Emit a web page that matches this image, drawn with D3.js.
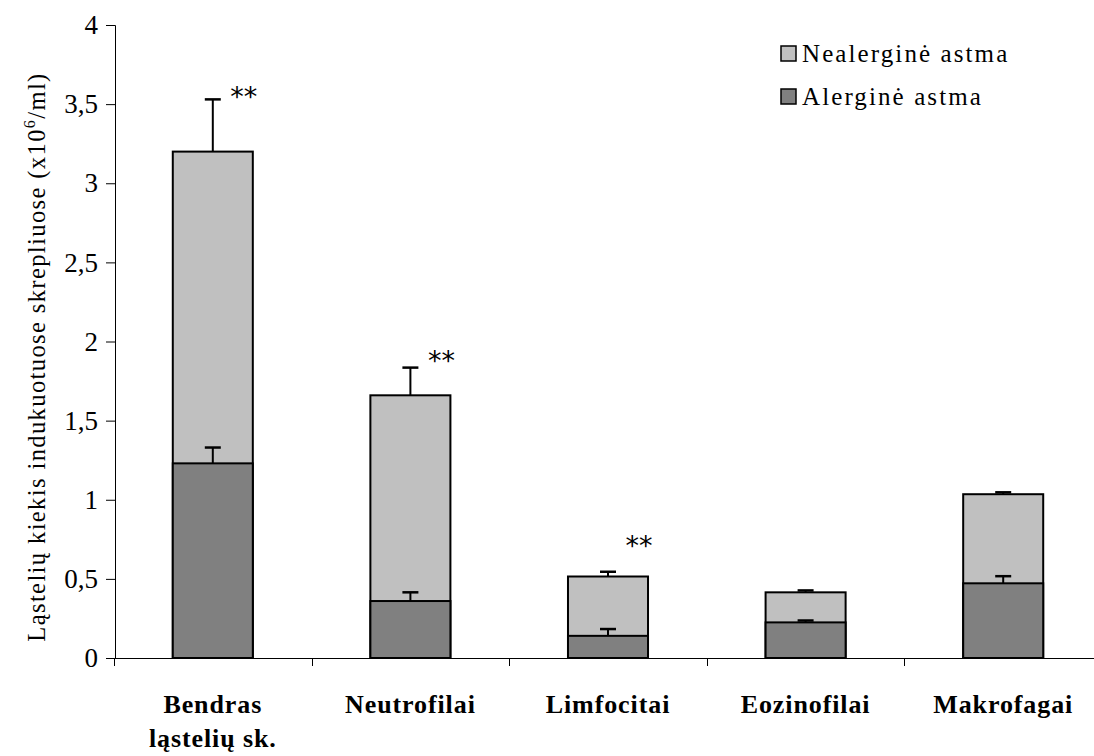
<!DOCTYPE html>
<html>
<head>
<meta charset="utf-8">
<script src="https://cdn.jsdelivr.net/npm/d3@7"></script>
<style>
  body { margin: 0; background: #fff; }
  text { font-family: "Liberation Serif", "Times New Roman", serif; }
</style>
</head>
<body>
<div class="content"></div>
<script>
const SVG_WIDTH = 1094;
const SVG_HEIGHT = 756;

// data
const categories = ["Bendras ląstelių sk.", "Neutrofilai", "Limfocitai", "Eozinofilai", "Makrofagai"];
const nealerg = [3.2, 1.66, 0.515, 0.415, 1.035];
const nealergErr = [0.33, 0.175, 0.03, 0.012, 0.012];
const alerg = [1.23, 0.36, 0.14, 0.225, 0.472];
const alergErr = [0.1, 0.055, 0.043, 0.012, 0.045];
const stars = ["**", "**", "**", "", ""];
const starLevel = [3.57, 1.9, 0.73, 0, 0];
const yTicks = [0, 0.5, 1, 1.5, 2, 2.5, 3, 3.5, 4];
const seriesNames = ["Nealerginė astma", "Alerginė astma"];
const seriesColors = ["#c0c0c0", "#808080"];

const svg = d3.select(".content").append("svg")
    .attr("width", SVG_WIDTH).attr("height", SVG_HEIGHT);

let y = d3.scaleLinear().domain([0, 4]).range([658, 25]);
let x = d3.scaleBand().domain(categories).range([114, 1102]).padding(0);
const barW = x.bandwidth() * 0.405;
const cx = d => x(d) + x.bandwidth() / 2;

// y axis
let yAxis = d3.axisLeft(y).tickValues(yTicks).tickSize(9).tickPadding(8)
    .tickFormat(d => String(d).replace(".", ","));
let yg = svg.append("g").attr("transform", "translate(115,0)").call(yAxis);
yg.select(".domain").attr("stroke", "#000").attr("stroke-width", 1);
yg.selectAll(".tick line").attr("stroke", "#000");
yg.selectAll(".tick text").style("font-size", "27px").attr("fill", "#000")
    .attr("font-family", "Liberation Serif");

// bars: nealergine behind, alergine in front
let rows = categories.map((c, i) => ({c: c, n: nealerg[i], ne: nealergErr[i], a: alerg[i], ae: alergErr[i], s: stars[i], sl: starLevel[i]}));

let bars = svg.append("g");
bars.selectAll("rect.neal").data(rows).join("rect").attr("class", "neal")
    .attr("x", d => cx(d.c) - barW / 2).attr("width", barW)
    .attr("y", d => y(d.n)).attr("height", d => y(0) - y(d.n))
    .attr("fill", seriesColors[0]).attr("stroke", "#000").attr("stroke-width", 2);

function errBars(g, val, err) {
    g.selectAll("line.v").data(rows).join("line").attr("class", "v")
        .attr("x1", d => cx(d.c)).attr("x2", d => cx(d.c))
        .attr("y1", d => y(val(d))).attr("y2", d => y(val(d) + err(d)))
        .attr("stroke", "#000").attr("stroke-width", 2);
    g.selectAll("line.cap").data(rows).join("line").attr("class", "cap")
        .attr("x1", d => cx(d.c) - 8).attr("x2", d => cx(d.c) + 8)
        .attr("y1", d => y(val(d) + err(d))).attr("y2", d => y(val(d) + err(d)))
        .attr("stroke", "#000").attr("stroke-width", 2.5);
}
errBars(svg.append("g"), d => d.n, d => d.ne);

bars.append("g").selectAll("rect.al").data(rows).join("rect").attr("class", "al")
    .attr("x", d => cx(d.c) - barW / 2).attr("width", barW)
    .attr("y", d => y(d.a)).attr("height", d => y(0) - y(d.a))
    .attr("fill", seriesColors[1]).attr("stroke", "#000").attr("stroke-width", 2);
errBars(svg.append("g"), d => d.a, d => d.ae);

// significance marks
svg.append("g").selectAll("text").data(rows.filter(d => d.s))
    .join("text")
    .attr("x", d => cx(d.c) + 31).attr("y", d => y(d.sl) + 13)
    .attr("text-anchor", "middle")
    .style("font-family", "'DejaVu Sans', sans-serif").style("font-size", "27px")
    .text(d => d.s);

// x axis
svg.append("line").attr("x1", 114).attr("x2", SVG_WIDTH).attr("y1", 658.5).attr("y2", 658.5)
    .attr("stroke", "#000").attr("stroke-width", 1.2);
svg.append("g").selectAll("line").data(categories).join("line")
    .attr("x1", d => Math.round(x(d)) + 0.5).attr("x2", d => Math.round(x(d)) + 0.5)
    .attr("y1", 658).attr("y2", 666).attr("stroke", "#000");

// category labels
let lbl = svg.append("g").selectAll("text").data(categories).join("text")
    .attr("x", d => cx(d)).attr("y", 713)
    .attr("text-anchor", "middle")
    .style("font-size", "26px").style("font-weight", "bold").style("letter-spacing", "0.9px");
lbl.each(function(d) {
    let parts = d === "Bendras ląstelių sk." ? ["Bendras", "ląstelių sk."] : [d];
    d3.select(this).selectAll("tspan").data(parts).join("tspan")
        .attr("x", cx(d)).attr("dy", (p, i) => i === 0 ? 0 : 34).text(p => p);
});

// y axis title
let yt = svg.append("text").attr("transform", "translate(45,357) rotate(-90)")
    .attr("text-anchor", "middle").style("font-size", "24.5px").style("letter-spacing", "1.4px");
yt.append("tspan").text("Ląstelių kiekis indukuotuose skrepliuose (x10");
yt.append("tspan").attr("dy", -10).style("font-size", "16px").text("6");
yt.append("tspan").attr("dy", 10).text("/ml)");

// legend
let leg = svg.append("g").selectAll("g").data(seriesNames).join("g")
    .attr("transform", (d, i) => "translate(781," + (46 + i * 43) + ")");
leg.append("rect").attr("width", 15).attr("height", 15)
    .attr("fill", (d, i) => seriesColors[i]).attr("stroke", "#000").attr("stroke-width", 1.5);
leg.append("text").attr("x", 21).attr("y", 16).style("font-size", "25px")
    .style("letter-spacing", "2.1px").text(d => d);
</script>
</body>
</html>
